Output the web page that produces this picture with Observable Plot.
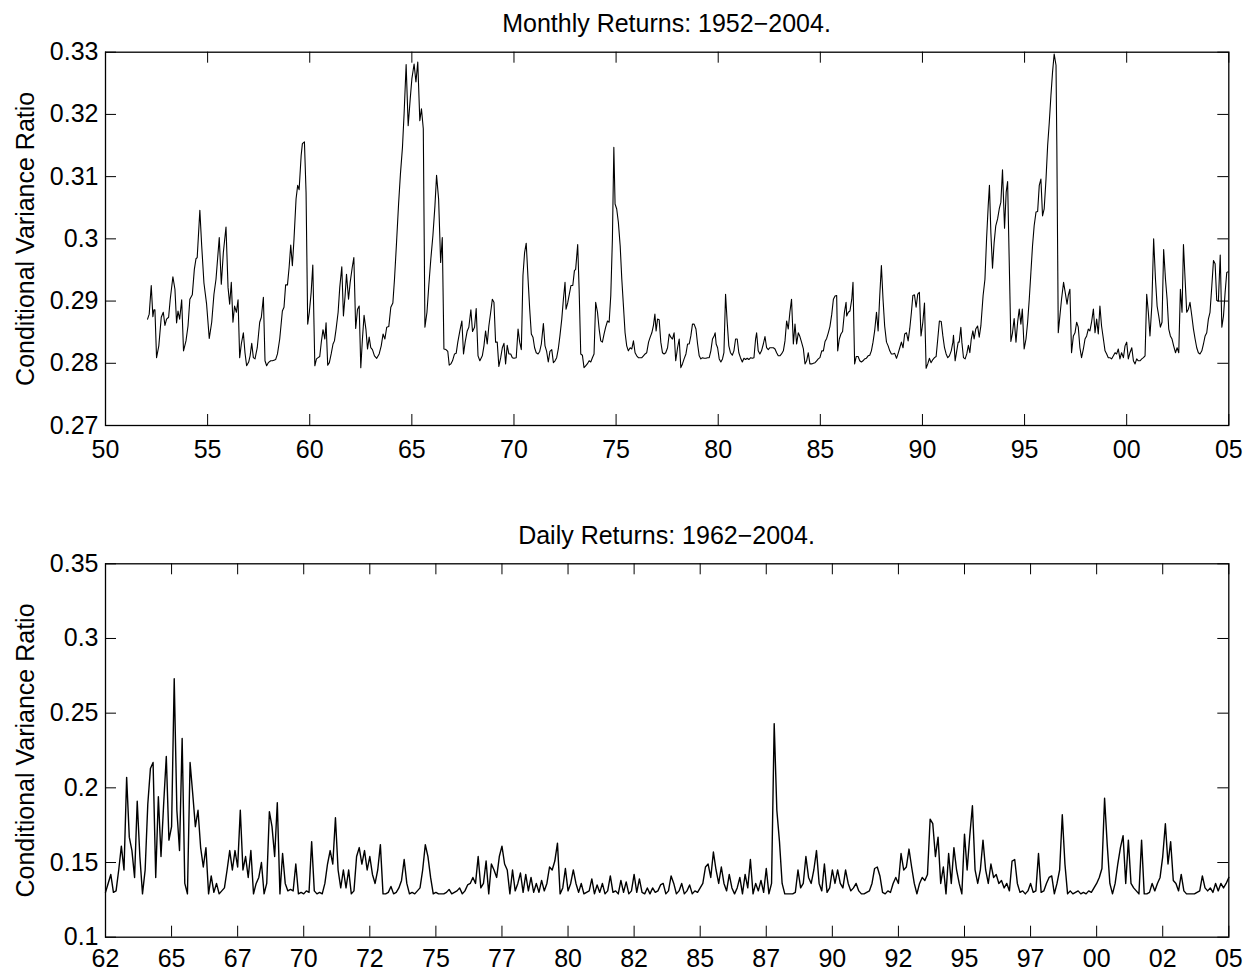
<!DOCTYPE html>
<html><head><meta charset="utf-8">
<script src="https://cdn.jsdelivr.net/npm/d3@7"></script>
<script src="https://cdn.jsdelivr.net/npm/@observablehq/plot@0.6"></script>
<style>
body{margin:0;background:#fff;}
#wrap{position:relative;width:1245px;height:972px;font-family:"Liberation Sans",Arial,Helvetica,sans-serif;overflow:hidden;}
.title{position:absolute;left:105px;width:1123px;text-align:center;font-size:25px;line-height:25px;color:#000;white-space:nowrap;}
.chart{position:absolute;left:0;}
</style></head><body>
<div id="wrap">
 <div class="chart" id="c1" style="top:0px"></div>
 <div class="chart" id="c2" style="top:512px"></div>
 <div class="title" style="top:11px">Monthly Returns: 1952−2004.</div>
 <div class="title" style="top:523px">Daily Returns: 1962−2004.</div>
</div>
<script>
// ---------- Monthly returns panel ----------
const monthlyYear = [
1952.06,1952.14,1952.24,1952.32,1952.37,1952.42,1952.50,1952.61,1952.73,1952.83,1952.91,1952.99,
1953.09,1953.17,1953.30,1953.40,1953.48,1953.55,1953.63,1953.73,1953.82,1953.94,
1954.04,1954.13,1954.25,1954.35,1954.43,1954.49,1954.62,1954.71,1954.82,1954.95,
1955.08,1955.20,1955.31,1955.41,1955.57,1955.67,1955.77,1955.90,
1956.00,1956.08,1956.16,1956.24,1956.32,1956.41,1956.49,1956.57,1956.65,1956.75,1956.83,1956.91,
1957.01,1957.08,1957.16,1957.24,1957.32,1957.43,1957.55,1957.63,1957.73,1957.81,1957.89,1957.97,
1958.09,1958.17,1958.25,1958.33,1958.42,1958.53,1958.66,1958.74,1958.82,1958.91,1958.99,
1959.07,1959.15,1959.23,1959.33,1959.41,1959.48,1959.58,1959.64,1959.74,1959.82,1959.90,1959.98,
1960.07,1960.15,1960.25,1960.33,1960.41,1960.49,1960.57,1960.65,1960.74,1960.80,1960.88,1960.96,
1961.05,1961.14,1961.21,1961.29,1961.39,1961.47,1961.57,1961.65,1961.73,1961.80,1961.90,1961.98,
1962.08,1962.16,1962.25,1962.34,1962.42,1962.50,1962.58,1962.66,1962.75,1962.83,1962.91,1962.99,
1963.07,1963.17,1963.28,1963.40,1963.50,1963.59,1963.68,1963.77,1963.87,1963.97,
1964.07,1964.15,1964.25,1964.35,1964.44,1964.54,1964.62,1964.72,1964.82,1964.92,
1965.00,1965.11,1965.20,1965.29,1965.39,1965.47,1965.56,1965.64,1965.74,1965.83,1965.93,
1966.03,1966.13,1966.21,1966.31,1966.41,1966.49,1966.57,1966.67,1966.76,1966.83,1966.91,1966.99,
1967.09,1967.17,1967.25,1967.35,1967.45,1967.53,1967.61,1967.71,1967.79,1967.89,1967.97,
1968.07,1968.15,1968.24,1968.33,1968.45,1968.53,1968.61,1968.69,1968.77,1968.86,1968.94,
1969.02,1969.10,1969.18,1969.26,1969.35,1969.43,1969.51,1969.59,1969.67,1969.75,1969.84,1969.92,
1970.00,1970.11,1970.20,1970.28,1970.36,1970.44,1970.52,1970.60,1970.69,1970.77,1970.85,1970.93,
1971.01,1971.09,1971.18,1971.26,1971.34,1971.44,1971.52,1971.60,1971.68,1971.76,1971.85,1971.93,
1972.01,1972.09,1972.17,1972.25,1972.34,1972.42,1972.50,1972.55,1972.63,1972.71,1972.79,1972.88,1972.96,
1973.02,1973.12,1973.19,1973.27,1973.35,1973.43,1973.51,1973.59,1973.68,1973.76,1973.84,1973.92,
1974.00,1974.09,1974.17,1974.25,1974.33,1974.41,1974.49,1974.58,1974.66,1974.74,1974.82,1974.89,1974.95,
1975.03,1975.11,1975.20,1975.28,1975.36,1975.44,1975.52,1975.60,1975.69,1975.77,1975.85,1975.93,
1976.01,1976.09,1976.18,1976.26,1976.34,1976.42,1976.50,1976.59,1976.67,1976.75,1976.83,1976.90,1976.96,
1977.03,1977.11,1977.19,1977.27,1977.35,1977.43,1977.52,1977.60,1977.68,1977.76,1977.84,1977.92,
1978.01,1978.09,1978.17,1978.25,1978.33,1978.42,1978.50,1978.58,1978.66,1978.74,1978.82,1978.91,1978.99,
1979.07,1979.15,1979.23,1979.31,1979.40,1979.48,1979.56,1979.64,1979.72,1979.80,1979.85,1979.90,1979.97,
1980.05,1980.13,1980.21,1980.28,1980.36,1980.44,1980.52,1980.60,1980.69,1980.77,1980.85,1980.93,
1981.01,1981.09,1981.18,1981.26,1981.34,1981.42,1981.50,1981.59,1981.67,1981.75,1981.83,1981.88,1981.96,
1982.04,1982.12,1982.21,1982.29,1982.37,1982.45,1982.53,1982.61,1982.70,1982.78,1982.86,1982.94,
1983.02,1983.10,1983.19,1983.27,1983.35,1983.43,1983.51,1983.59,1983.68,1983.76,1983.84,1983.92,
1984.00,1984.08,1984.17,1984.25,1984.33,1984.41,1984.49,1984.58,1984.66,1984.74,1984.82,1984.90,1984.98,
1985.07,1985.15,1985.23,1985.31,1985.39,1985.47,1985.56,1985.64,1985.72,1985.80,1985.85,1985.93,
1986.01,1986.09,1986.18,1986.26,1986.29,1986.37,1986.45,1986.54,1986.60,1986.68,1986.76,1986.85,1986.93,
1987.01,1987.09,1987.17,1987.25,1987.34,1987.42,1987.50,1987.58,1987.66,1987.75,1987.83,1987.91,1987.99,
1988.07,1988.15,1988.24,1988.32,1988.40,1988.48,1988.56,1988.64,1988.73,1988.81,1988.89,1988.97,
1989.05,1989.13,1989.22,1989.30,1989.38,1989.46,1989.53,1989.61,1989.69,1989.77,1989.85,1989.93,
1990.02,1990.10,1990.18,1990.26,1990.34,1990.42,1990.51,1990.59,1990.67,1990.75,1990.83,1990.92,
1991.00,1991.08,1991.16,1991.24,1991.32,1991.41,1991.49,1991.52,1991.60,1991.68,1991.75,1991.80,1991.88,1991.93,
1992.01,1992.09,1992.17,1992.25,1992.32,1992.39,1992.47,1992.53,1992.61,1992.70,1992.78,1992.86,1992.97,
1993.06,1993.14,1993.22,1993.28,1993.35,1993.43,1993.51,1993.59,1993.68,1993.76,1993.84,1993.92,
1994.02,1994.10,1994.17,1994.25,1994.33,1994.41,1994.49,1994.58,1994.66,1994.74,1994.82,1994.89,1994.98,
1995.07,1995.15,1995.23,1995.31,1995.39,1995.47,1995.56,1995.64,1995.72,1995.80,1995.88,1995.96,
1996.05,1996.13,1996.21,1996.29,1996.37,1996.45,1996.54,1996.58,1996.65,1996.73,1996.81,1996.91,1996.99,
1997.08,1997.14,1997.22,1997.30,1997.39,1997.47,1997.55,1997.63,1997.71,1997.79,1997.88,1997.96,
1998.04,1998.12,1998.20,1998.28,1998.37,1998.45,1998.53,1998.61,1998.69,1998.77,1998.86,1998.94,
1999.02,1999.10,1999.18,1999.26,1999.35,1999.43,1999.51,1999.59,1999.67,1999.75,1999.84,1999.92,
2000.00,2000.08,2000.16,2000.25,2000.33,2000.41,2000.49,2000.57,2000.65,2000.74,2000.82,2000.90,2000.98,
2001.06,2001.14,2001.23,2001.32,2001.41,2001.49,2001.57,2001.65,2001.73,2001.81,2001.90,2001.98,
2002.06,2002.14,2002.22,2002.30,2002.39,2002.47,2002.55,2002.63,2002.71,2002.78,2002.86,2002.94,
2003.02,2003.10,2003.19,2003.27,2003.35,2003.43,2003.51,2003.59,2003.68,2003.76,2003.84,2003.92,
2004.00,2004.08,2004.17,2004.25,2004.33,2004.41,2004.49,2004.58,2004.66,2004.74,2004.82,2004.90,2004.97
];
const monthlyRatio = [
.2871,.2879,.2925,.2875,.2886,.2886,.2809,.2828,.2874,.2882,.2861,.2871,
.2874,.2903,.2939,.2919,.2865,.2884,.2871,.2902,.2820,.2836,
.2860,.2903,.2910,.2951,.2968,.2970,.3046,.2989,.2929,.2895,
.2840,.2866,.2911,.2935,.3002,.2927,.2978,.3019,
.2922,.2895,.2930,.2866,.2892,.2882,.2902,.2809,.2831,.2849,.2817,.2796,
.2802,.2812,.2832,.2809,.2807,.2825,.2866,.2874,.2906,.2804,.2796,.2801,
.2804,.2804,.2805,.2806,.2815,.2839,.2884,.2890,.2926,.2926,.2954,
.2990,.2957,.3000,.3064,.3086,.3079,.3134,.3153,.3156,.3075,.2863,.2882,
.2914,.2958,.2796,.2807,.2809,.2811,.2835,.2854,.2839,.2865,.2797,.2801,
.2815,.2831,.2836,.2855,.2882,.2922,.2955,.2876,.2908,.2943,.2903,.2930,
.2954,.2970,.2856,.2887,.2892,.2793,.2839,.2877,.2855,.2823,.2842,.2825,
.2822,.2812,.2808,.2815,.2828,.2847,.2839,.2858,.2859,.2890,
.2897,.2935,.2994,.3056,.3104,.3147,.3201,.3280,.3182,.3225,
.3257,.3281,.3252,.3284,.3190,.3209,.3177,.2858,.2882,.2925,.2968,
.3005,.3053,.3102,.3064,.2962,.3002,.2823,.2822,.2819,.2797,.2799,.2804,
.2815,.2816,.2834,.2852,.2868,.2815,.2834,.2852,.2858,.2886,.2851,
.2858,.2888,.2812,.2804,.2812,.2828,.2852,.2831,.2860,.2882,.2903,
.2898,.2834,.2834,.2795,.2809,.2825,.2832,.2799,.2829,.2815,.2815,.2809,
.2808,.2809,.2855,.2834,.2822,.2941,.2978,.2993,.2935,.2887,.2847,.2842,
.2825,.2817,.2815,.2819,.2831,.2864,.2828,.2819,.2802,.2819,.2822,.2801,
.2804,.2809,.2823,.2844,.2871,.2903,.2930,.2887,.2897,.2911,.2925,.2925,.2949,
.2951,.2991,.2919,.2815,.2813,.2793,.2796,.2799,.2804,.2802,.2809,.2815,
.2898,.2882,.2855,.2836,.2834,.2847,.2858,.2868,.2866,.2909,.3000,.3147,.3056,
.3048,.3027,.2989,.2935,.2892,.2849,.2828,.2820,.2825,.2823,.2836,.2817,
.2812,.2809,.2809,.2809,.2812,.2815,.2817,.2834,.2842,.2849,.2861,.2879,.2852,
.2871,.2870,.2834,.2817,.2815,.2817,.2825,.2847,.2842,.2839,.2849,.2804,
.2825,.2839,.2793,.2799,.2807,.2815,.2831,.2831,.2844,.2863,.2863,.2855,.2831,
.2812,.2807,.2809,.2808,.2808,.2809,.2809,.2820,.2839,.2844,.2849,.2831,.2825,
.2807,.2802,.2807,.2817,.2911,.2866,.2828,.2817,.2813,.2820,.2839,.2839,
.2817,.2809,.2802,.2808,.2806,.2808,.2806,.2809,.2808,.2809,.2839,.2849,.2820,
.2815,.2820,.2831,.2843,.2825,.2822,.2825,.2825,.2825,.2823,.2817,.2812,
.2812,.2815,.2820,.2836,.2868,.2855,.2882,.2903,.2831,.2863,.2831,.2849,
.2843,.2834,.2823,.2799,.2804,.2817,.2799,.2799,.2800,.2801,.2804,.2807,.2809,
.2820,.2820,.2835,.2840,.2849,.2859,.2879,.2903,.2908,.2909,.2820,.2839,
.2847,.2851,.2882,.2898,.2876,.2882,.2884,.2903,.2930,.2799,.2811,.2811,.2804,
.2802,.2804,.2807,.2808,.2812,.2813,.2820,.2834,.2852,.2882,.2852,.2909,.2957,
.2903,.2860,.2834,.2828,.2820,.2815,.2815,.2816,.2808,.2816,.2825,.2834,
.2825,.2847,.2849,.2836,.2856,.2882,.2909,.2910,.2890,.2911,.2914,.2844,
.2866,.2897,.2792,.2799,.2808,.2801,.2806,.2809,.2811,.2839,.2868,.2867,
.2844,.2825,.2815,.2809,.2812,.2820,.2834,.2845,.2804,.2820,.2834,.2834,.2858,.2834,
.2809,.2807,.2815,.2829,.2817,.2839,.2852,.2839,.2855,.2860,.2842,.2860,.2909,
.2935,.3000,.3053,.3086,.3010,.2953,.2994,.3021,.3032,.3048,.3059,.3111,
.3017,.3075,.3092,.2962,.2835,.2849,.2872,.2834,.2866,.2887,.2863,.2887,.2823,
.2839,.2866,.2903,.2946,.2989,.3021,.3043,.3044,.3086,.3096,.3037,.3048,
.3096,.3150,.3187,.3230,.3268,.3297,.3279,.3150,.2849,.2876,.2903,.2930,.2914,
.2895,.2909,.2919,.2817,.2844,.2849,.2866,.2858,.2825,.2809,.2823,.2839,
.2844,.2855,.2852,.2866,.2887,.2849,.2871,.2847,.2892,.2860,.2839,.2820,
.2815,.2809,.2809,.2807,.2812,.2817,.2815,.2823,.2807,.2817,.2809,.2828,
.2834,.2807,.2817,.2825,.2804,.2799,.2807,.2804,.2804,.2807,.2809,.2812,.2911,
.2882,.2844,.2892,.3000,.2935,.2892,.2876,.2858,.2866,.2983,.2935,.2903,
.2855,.2844,.2839,.2828,.2817,.2825,.2817,.2919,.2882,.2991,.2935,.2882,
.2887,.2898,.2876,.2855,.2839,.2825,.2817,.2815,.2820,.2831,.2844,.2849,
.2871,.2882,.2925,.2965,.2960,.2901,.2900,.2974,.2858,.2876,.2914,.2946,.2947
];
const monthlyXTicks = [1950,1955,1960,1965,1970,1975,1980,1985,1990,1995,2000,2005];
const monthlyXLabels = ["50","55","60","65","70","75","80","85","90","95","00","05"];
const monthlyYTicks = [0.27,0.28,0.29,0.30,0.31,0.32,0.33];

// ---------- Daily returns panel (one reading every 0.1 year from mid-1962) ----------
const dailyStart = 1962.5;
const dailyStep = 0.1;
const dailyRatio = [
.130,.136,.142,.130,.131,.145,.161,.145,.207,.167,
.158,.140,.191,.154,.129,.145,.189,.213,.217,.140,
.194,.154,.189,.221,.165,.174,.273,.185,.158,.233,
.136,.129,.217,.196,.174,.185,.160,.147,.160,.129,
.141,.130,.136,.129,.131,.133,.145,.158,.145,.158,
.147,.185,.145,.154,.140,.158,.129,.136,.140,.150,
.129,.136,.184,.174,.154,.190,.129,.156,.136,.131,
.132,.131,.149,.129,.130,.129,.131,.130,.164,.131,
.129,.130,.129,.136,.149,.158,.149,.180,.145,.133,
.145,.133,.145,.129,.131,.154,.160,.149,.158,.145,
.154,.142,.136,.145,.162,.129,.129,.130,.134,.129,
.130,.133,.138,.152,.136,.129,.130,.129,.131,.133,
.145,.162,.154,.140,.129,.130,.129,.129,.129,.130,
.132,.129,.130,.131,.133,.129,.131,.135,.136,.140,
.136,.154,.133,.136,.151,.129,.149,.145,.140,.154,
.161,.149,.145,.129,.145,.131,.136,.143,.130,.142,
.131,.140,.130,.136,.130,.138,.131,.136,.147,.145,
.151,.163,.129,.133,.146,.131,.136,.145,.136,.130,
.136,.129,.130,.131,.139,.129,.135,.130,.136,.129,
.131,.141,.130,.131,.129,.138,.130,.137,.129,.131,
.142,.130,.139,.130,.129,.133,.129,.133,.130,.131,
.135,.136,.129,.131,.141,.136,.129,.131,.136,.129,
.131,.135,.129,.131,.130,.133,.136,.147,.149,.140,
.157,.145,.136,.147,.136,.131,.142,.133,.129,.133,
.140,.129,.142,.133,.152,.129,.136,.131,.138,.130,
.146,.129,.136,.243,.185,.164,.136,.129,.129,.129,
.129,.130,.145,.133,.136,.154,.140,.136,.145,.158,
.136,.131,.149,.130,.133,.145,.136,.145,.136,.133,
.145,.136,.131,.133,.136,.131,.129,.129,.130,.131,
.136,.146,.147,.141,.130,.129,.131,.130,.136,.140,
.136,.156,.145,.147,.159,.147,.136,.129,.136,.140,
.138,.142,.179,.176,.154,.167,.136,.147,.129,.156,
.136,.160,.145,.136,.129,.169,.145,.168,.188,.145,
.136,.145,.165,.145,.136,.149,.140,.142,.136,.138,
.133,.136,.131,.151,.152,.136,.130,.131,.129,.131,
.136,.130,.131,.156,.130,.131,.136,.140,.141,.129,
.136,.145,.182,.149,.129,.131,.129,.130,.131,.129,
.130,.129,.131,.130,.133,.136,.140,.146,.193,.162,
.136,.129,.136,.149,.160,.168,.136,.165,.136,.133,
.131,.129,.165,.129,.129,.130,.136,.131,.136,.140,
.154,.176,.149,.164,.138,.136,.131,.142,.131,.129,
.129,.129,.129,.130,.131,.141,.133,.131,.133,.130,
.136,.131,.136,.133,.136,.140
];
const dailyXTicks = [1962.5,1965,1967.5,1970,1972.5,1975,1977.5,1980,1982.5,1985,1987.5,1990,1992.5,1995,1997.5,2000,2002.5,2005];
const dailyXLabels = ["62","65","67","70","72","75","77","80","82","85","87","90","92","95","97","00","02","05"];
const dailyYTicks = [0.10,0.15,0.20,0.25,0.30,0.35];

const yLabelText = "Conditional Variance Ratio";

// ---------- drawing ----------
const FONT = '"Liberation Sans", Arial, Helvetica, sans-serif';
function panel({data, xDomain, yDomain, xTicks, xLabels, yTicks, height, marginTop, marginBottom, strokeWidth, xPad}) {
  const W = 1245, ML = 105, MR = 16.7, T = 11;
  const frameH = height - marginTop - marginBottom;
  const frameW = W - ML - MR;
  const xl = new Map(xTicks.map((d, i) => [d, xLabels[i]]));
  return Plot.plot({
    width: W, height, marginLeft: ML, marginRight: MR, marginTop, marginBottom,
    style: {fontFamily: FONT, fontSize: "25px", color: "#000", background: "transparent", overflow: "visible"},
    x: {domain: xDomain},
    y: {domain: yDomain},
    marks: [
      Plot.line(data, {x: "t", y: "v", stroke: "#000", strokeWidth}),
      Plot.tickX(xTicks, {x: d => d, insetTop: frameH - T, stroke: "#000"}),
      Plot.tickX(xTicks, {x: d => d, insetBottom: frameH - T, stroke: "#000"}),
      Plot.tickY(yTicks, {y: d => d, insetRight: frameW - T, stroke: "#000"}),
      Plot.tickY(yTicks, {y: d => d, insetLeft: frameW - T, stroke: "#000"}),
      Plot.frame({stroke: "#000", strokeWidth: 1.3}),
      Plot.axisX(xTicks, {tickSize: 0, tickPadding: xPad, tickFormat: d => xl.get(d), label: null}),
      Plot.axisY(yTicks, {tickSize: 0, tickPadding: 7, tickFormat: d => String(+d.toFixed(2)), label: null}),
      Plot.text([yLabelText], {text: d => d, frameAnchor: "left", textAnchor: "middle", rotate: -90, dx: -89.5, lineAnchor: "top", fontSize: 25, fill: "#000"})
    ]
  });
}

const monthlyData = monthlyYear.map((t, i) => ({t, v: monthlyRatio[i]}));
const dailyData = dailyRatio.map((v, i) => ({t: dailyStart + i * dailyStep, v}));

document.getElementById("c1").appendChild(panel({
  data: monthlyData, xDomain: [1950, 2005], yDomain: [0.27, 0.33],
  xTicks: monthlyXTicks, xLabels: monthlyXLabels, yTicks: monthlyYTicks,
  height: 470, marginTop: 51.7, marginBottom: 45, strokeWidth: 1.1, xPad: 15
}));
document.getElementById("c2").appendChild(panel({
  data: dailyData, xDomain: [1962.5, 2005], yDomain: [0.1, 0.35],
  xTicks: dailyXTicks, xLabels: dailyXLabels, yTicks: dailyYTicks,
  height: 460, marginTop: 51.3, marginBottom: 35.3, strokeWidth: 1.4, xPad: 12
}));
</script>
</body></html>
